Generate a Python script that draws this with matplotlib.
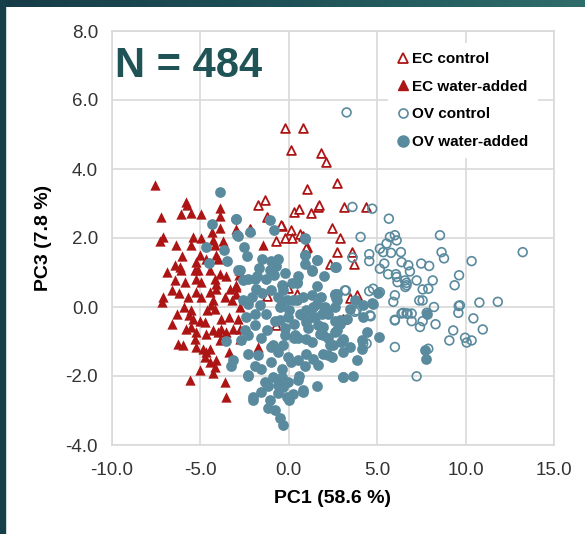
import matplotlib.pyplot as plt
import numpy as np
from matplotlib.colors import LinearSegmentedColormap
from matplotlib.lines import Line2D

# PCA scores (PC1, PC3)
ec_control_x = [-0.19, 0.78, 0.11, 1.8, 2.08, 2.7, 1.04, 0.28, 0.57, 1.25, 1.66, 1.70, 3.13, 4.34,
                2.42, 2.89, 0.15, 0.62, -0.19, 0.19, -0.41, 1.04, 2.74, 3.55, 2.32, 3.68, -0.04,
                0.44, 3.45, 3.87, 3.07, -1.36, -1.74, -1.26, -0.45, -2.21, -0.75, 0.81, 1.0,
                -1.23, -0.7]
ec_control_y = [5.2, 5.2, 4.56, 4.45, 4.2, 3.58, 3.43, 2.75, 2.83, 2.72, 2.9, 2.95, 2.9, 2.9,
                2.29, 2.0, 2.22, 2.13, 2.0, 2.01, 2.35, 1.74, 1.59, 1.59, 1.26, 1.24, 0.55,
                0.39, 0.26, 0.34, -0.34, 3.11, 2.95, 2.61, 2.37, 2.27, 1.9, 2.05, 1.72,
                0.32, -0.51]

ec_water_x = [-7.59, -5.79, -5.76, -6.08, -5.51, -4.94, -7.21, -3.91, -3.87, -7.12, -7.3, -5.42,
              -4.94, -5.51, -4.34, -4.29, -4.19, -6.02, -6.46, -6.17, -6.08, -6.87, -5.27, -5.32,
              -5.14, -4.09, -4.0, -4.47, -3.91, -3.57, -6.42, -5.89, -5.23, -4.94, -4.19, -4.13,
              -7.12, -7.17, -5.7, -5.23, -4.94, -4.47, -4.29, -4.09, -3.34, -2.96, -5.51, -5.64,
              -5.42, -4.76, -4.38, -4.19, -3.81, -5.79, -5.51, -5.23, -4.66, -4.29, -4.0, -3.81,
              -3.53, -3.15, -6.27, -5.98, -5.32, -5.23, -4.85, -4.47, -4.66, -4.76, -4.47, -4.09,
              -4.19, -5.04, -3.91, -3.38, -5.61, -3.62, -3.53, -2.96, -1.46, -2.81, -2.96, -2.77,
              -2.83, -2.96, -2.87, -2.77, -2.77, -1.74, -6.6, -6.3, -5.0, -3.7, -3.2, -4.6,
              -5.9, -6.2, -4.7, -3.6, -3.4, -5.0, -6.6, -4.3, -3.9, -6.4]
ec_water_y = [3.53, 3.04, 2.95, 2.69, 2.72, 2.71, 2.61, 2.88, 2.63, 2.03, 1.91, 2.03,
              2.0, 1.79, 2.17, 1.93, 1.79, 1.47, 1.21, 1.16, 1.06, 1.01, 1.3, 1.06,
              1.06, 1.5, 1.4, 1.06, 0.97, 0.89, 0.77, 0.72, 0.82, 0.72, 0.82, 0.68,
              0.29, 0.14, 0.29, 0.43, 0.29, 0.43, 0.19, 0.53, 0.53, 0.58, -0.1, -0.24,
              -0.34, -0.43, 0.05, -0.05, -0.34, -0.63, -0.58, -0.72, -0.77, -0.68, -0.72, -0.63,
              -0.72, -0.63, -1.06, -1.09, -0.92, -1.16, -1.21, -1.21, -1.3, -1.45, -1.59, -1.54,
              -1.74, -1.83, -0.97, -1.3, -2.12, -2.17, -2.61, 2.27, 1.79, 0.92, 0.39, 0.0,
              1.06, 0.63, -0.34, -0.63, -0.92, -1.16, 0.5, -0.2, 1.5, 1.9, 0.2, -0.1,
              0.0, 0.4, 1.4, 0.3, -0.3, -0.4, -0.5, -1.9, 2.3, 1.8]

ov_control_x = [3.27, 3.6, 4.72, 5.66, 4.06, 5.72, 6.0, 6.1, 5.53, 5.15, 5.34, 5.78, 6.34, 4.55,
                4.55, 3.6, 5.4, 5.15, 5.62, 6.06, 6.38, 6.76, 6.85, 7.23, 6.66, 6.59, 6.15, 7.49,
                7.94, 8.55, 8.64, 8.78, 10.34, 9.63, 9.38, 8.14, 7.89, 7.57, 7.57, 7.38, 8.21,
                7.8, 7.57, 7.42, 8.3, 9.61, 9.68, 9.59, 10.78, 11.82, 10.44, 10.97, 9.3, 9.08,
                9.97, 10.06, 10.34, 13.23, 6.0, 6.47, 6.72, 6.95, 6.95, 6.0, 7.89, 7.23, 5.91,
                6.0, 4.55, 4.77, 5.15, 3.23, 3.83, 4.63, 4.21, 3.17, 4.59, 6.1, 6.57, 6.66,
                3.74, 6.0, 6.38, 6.66, 4.4]
ov_control_y = [5.64, 2.9, 2.85, 2.56, 2.03, 2.03, 2.08, 1.93, 1.84, 1.69, 1.59, 1.57, 1.59, 1.53,
                1.33, 1.43, 1.26, 1.11, 0.95, 0.95, 1.3, 1.21, 1.03, 0.77, 0.7, 0.58, 0.72, 1.26,
                1.19, 2.08, 1.59, 1.41, 1.33, 0.92, 0.63, 0.77, 0.53, 0.51, 0.19, 0.19, 0.0,
                -0.17, -0.41, -0.58, -0.5, 0.03, 0.05, -0.17, 0.13, 0.15, -0.33, -0.65, -0.68, -0.97,
                -0.89, -1.03, -0.97, 1.59, -0.37, -0.17, -0.19, -0.19, -0.41, -1.16, -1.21, -2.01, 0.15,
                0.34, 0.46, 0.53, 0.43, 0.48, -0.1, -0.27, -1.06, 0.48, -0.24, 0.87, 0.77, 0.63,
                -0.14, -0.39, -0.19, -0.19, -1.06]

ov_water_x = [-3.91, -4.32, -3.0, -2.93, -4.66, -3.66, -3.49, -4.53, -2.87, -2.96, -1.08, -0.85,
              -2.21, -2.87, -2.53, -2.36, -1.51, -1.02, -0.6, -1.7, -1.08, -0.83, -2.3, -1.93,
              -2.59, -0.41, 0.44, 0.91, 0.94, 1.62, 0.91, 1.29, 2.66, -1.83, -2.3, -1.64,
              -0.41, 0.24, 1.29, 2.6, 2.04, 2.6, -0.51, -0.04, 0.72, 1.29, 1.66, -1.93,
              -1.26, -2.49, -2.68, -2.3, -0.23, 0.34, 1.0, 1.94, 2.51, 2.98, -2.3, -1.74,
              -0.98, -0.6, -0.04, 0.53, 1.0, 1.66, 2.23, -2.3, -1.55, -0.89, -1.36, -0.6,
              -0.04, 0.53, 0.81, -1.55, -2.02, -1.08, -1.17, -0.79, -0.13, -0.51, -0.32, 3.07,
              0.94, 0.91, 1.6, 1.29, 2.64, 0.47, 2.6, 2.66, 3.74, 4.72, 5.06, 3.45,
              4.21, 4.4, 5.11, 4.12, 4.12, 3.83, 3.07, 3.64, 7.8, 7.7, 7.76, 1.57,
              2.04, 2.23, 2.89, 3.27, 2.7, 3.07, 3.45, 1.94, 0.44, -0.13, -0.51, 1.38,
              0.62, 1.0, 1.76, 2.32, 1.94, 1.38, 0.81, 0.24, -0.41, -0.32, 2.7, 2.7,
              4.21, 4.74, 2.89, 2.6, 3.07, 3.07, 2.42, -2.77, -3.53, -3.15, -3.25, -2.3,
              -2.02, -1.5, -1.0, -0.6, 0.0, 0.3, 0.8, 1.1, 1.5, -1.3, -0.8, -0.2,
              0.5, 1.3, -1.6, -0.9, -0.3, 0.1, 0.9, -0.4, -1.0, -1.9, -2.1, 0.5,
              -0.2, -0.7, 1.8, 2.2, 0.6, -1.9, 1.6,
              -1.8, -1.3, -0.3, 0.2, 1.6, 2.0, -2.6, -2.4, 0.0, -0.6, 1.0, 2.6,
              1.9, -1.2, 0.3]
ov_water_y = [3.32, 2.42, 2.54, 2.08, 1.74, 1.66, 1.33, 1.28, 1.06, 2.56, 2.53, 2.24,
              2.17, 2.05, 1.74, 1.47, 1.4, 1.32, 1.4, 1.14, 1.06, 0.92, 0.82, 0.82,
              0.77, 0.63, 0.72, 1.98, 1.5, 1.37, 1.26, 1.06, 1.16, 0.53, 0.1, 0.05,
              0.14, 0.19, 0.34, 0.34, -0.05, 0.0, -0.39, -0.29, -0.24, -0.29, -0.53, -0.53,
              -0.68, -0.68, -0.97, -0.82, -0.82, -0.82, -0.92, -0.82, -1.11, -1.01, -1.35, -1.4,
              -1.16, -1.3, -1.45, -1.54, -1.35, -1.69, -1.4, -1.98, -1.79, -2.03, -2.17, -2.27,
              -2.17, -2.12, -2.46, -2.46, -2.7, -2.7, -2.94, -2.99, -2.61, -3.23, -3.43, -2.03,
              2.01, 1.5, 1.37, 1.04, 1.16, 0.7, 0.37, 0.27, 0.19, 0.12, 0.41, -0.05,
              -0.29, -0.72, -0.87, -0.97, -1.21, -1.54, -2.03, -2.01, -0.19, -1.26, -1.5, 0.1,
              0.0, -0.19, -0.39, -0.34, -0.68, -0.97, -1.16, -0.58, 0.19, 0.19, 0.0, 0.0,
              -0.19, -0.43, -0.77, -1.11, -1.35, -1.5, -2.41, -2.51, -2.03, -2.32, 0.39, 0.19,
              0.05, 0.1, -0.48, -0.72, -0.92, -1.3, -1.45, 1.06, -0.99, -1.53, -1.72, -2.01,
              -2.61, 0.4, 0.5, 0.3, -0.1, -0.5, 0.3, -0.6, -0.3, -0.2, -0.4, -0.6,
              -0.9, -1.0, -0.9, -1.1, -1.1, -1.6, -1.7, -1.8, -1.6, -0.2, 0.3, 0.9,
              1.0, 1.2, 0.3, -0.9, -2.0, -1.7, -2.3,
              0.9, 0.8, 0.5, 0.7, 0.6, 0.9, 0.2, -0.3, -2.7, -2.5, -0.1, -0.4,
              -0.2, -2.3, -0.9]

labels = ['EC control', 'EC water-added', 'OV control', 'OV water-added']
red = '#AD1515'
blue = '#5A8A9E'

plt.rcParams['font.family'] = ['Liberation Sans', 'DejaVu Sans']

fig = plt.figure(figsize=(5.85, 5.34), dpi=100)

# dark teal frame on the left and a gradient bar on top
fig.patches.append(plt.Rectangle((0, 0), 5 / 585, 1, transform=fig.transFigure,
                                 color='#173f4a', zorder=0))
bar = fig.add_axes([0, 1 - 7.5 / 534, 1, 7.5 / 534])
cmap = LinearSegmentedColormap.from_list('bar', ['#163c48', '#1f5258', '#2f6d6b'])
bar.imshow(np.linspace(0, 1, 256)[None, :], aspect='auto', cmap=cmap)
bar.axis('off')

ax = fig.add_axes([112 / 585, 1 - 445 / 534, 442 / 585, 414 / 534])
ax.scatter(ec_control_x, ec_control_y, marker='^', s=40, facecolors='white',
           edgecolors=red, linewidths=1.3, zorder=3)
ax.scatter(ec_water_x, ec_water_y, marker='^', s=55, color=red, linewidths=0, zorder=3)
ax.scatter(ov_control_x, ov_control_y, marker='o', s=40, facecolors='none',
           edgecolors=blue, linewidths=1.2, zorder=3)
ax.scatter(ov_water_x, ov_water_y, marker='o', s=60, color=blue, linewidths=0, zorder=4)

ax.set_xlim(-10, 15)
ax.set_ylim(-4, 8)
ax.set_xticks(np.arange(-10, 16, 5))
ax.set_yticks(np.arange(-4, 9, 2))
ax.set_xticklabels([f'{v:.1f}' for v in np.arange(-10, 16, 5)])
ax.set_yticklabels([f'{v:.1f}' for v in np.arange(-4, 9, 2)])
ax.tick_params(length=0, labelsize=13.5, labelcolor='#333333', pad=10)
ax.tick_params(axis='x', pad=12)
ax.grid(True, color='#d9d9d9', linewidth=1.2, zorder=0)
ax.set_axisbelow(True)
for sp in ax.spines.values():
    sp.set_color('#d9d9d9')
    sp.set_linewidth(1.2)

ax.set_xlabel('PC1 (58.6 %)', fontsize=14, fontweight='bold', labelpad=8)
ax.set_ylabel('PC3 (7.8 %)', fontsize=14, fontweight='bold', labelpad=10)

ax.text(0.007, 0.889, 'N = 484', transform=ax.transAxes, fontsize=30,
        fontweight='bold', color='#1f5356', va='baseline', ha='left', zorder=6)

handles = [
    Line2D([], [], ls='none', marker='^', ms=6.5, mfc='white', mec=red, mew=1.3),
    Line2D([], [], ls='none', marker='^', ms=7.5, color=red),
    Line2D([], [], ls='none', marker='o', ms=6.5, mfc='none', mec=blue, mew=1.2),
    Line2D([], [], ls='none', marker='o', ms=8, color=blue),
]
leg = ax.legend(handles, labels, loc='upper left', bbox_to_anchor=(0.607, 0.99),
                frameon=True, framealpha=1, edgecolor='none', facecolor='white',
                fancybox=False, handlelength=0.8, handletextpad=0.2,
                labelspacing=0.9, borderpad=0.6, prop={'weight': 'bold', 'size': 11})
leg.set_zorder(5)

plt.savefig('out.png', dpi=100)
